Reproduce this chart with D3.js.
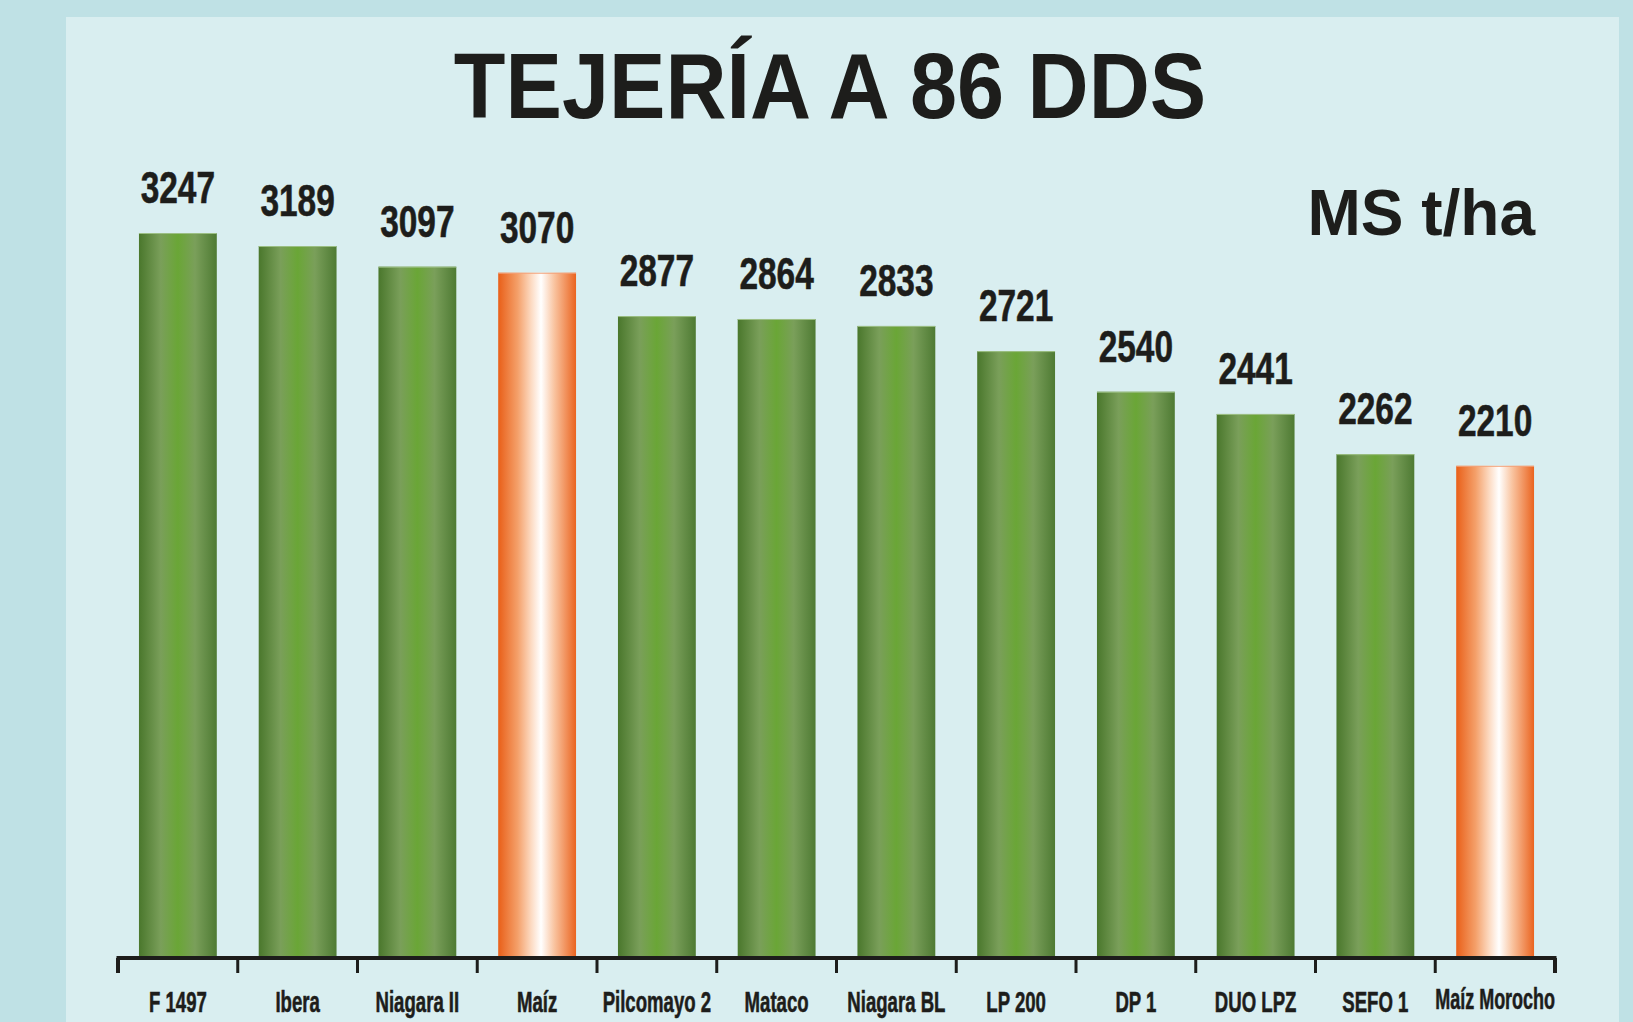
<!DOCTYPE html>
<html>
<head>
<meta charset="utf-8">
<script src="https://cdn.jsdelivr.net/npm/d3@7"></script>
<style>
  html, body { margin: 0; padding: 0; background: #bfe1e5; overflow: hidden; }
  text { font-family: "Liberation Sans", Arial, sans-serif; font-weight: bold; fill: #1d1d1b; }
  .lbl { stroke: #1d1d1b; stroke-width: 0.6px; }
</style>
</head>
<body>
<div id="chart"></div>
<script>
// data
const categories = ["F 1497", "Ibera", "Niagara II", "Maíz", "Pilcomayo 2", "Mataco",
                    "Niagara BL", "LP 200", "DP 1", "DUO LPZ", "SEFO 1", "Maíz Morocho"];
const values = [3247, 3189, 3097, 3070, 2877, 2864, 2833, 2721, 2540, 2441, 2262, 2210];
const isMaize = [false, false, false, true, false, false, false, false, false, false, false, true];

const titleText = "TEJERÍA A 86 DDS";
const unitText = "MS t/ha";

const W = 1633, H = 1022;

let svg = d3.select("#chart").append("svg")
    .attr("width", W)
    .attr("height", H);

// background panel
svg.append("rect")
    .attr("width", W).attr("height", H)
    .attr("fill", "#bfe1e5");
svg.append("rect")
    .attr("x", 66).attr("y", 17)
    .attr("width", 1619 - 66).attr("height", H)
    .attr("fill", "#d9eef0");

// gradients
let defs = svg.append("defs");
let green = defs.append("linearGradient").attr("id", "gGreen")
    .attr("x1", 0).attr("x2", 1).attr("y1", 0).attr("y2", 0);
[[0, "#4a772c"], [0.28, "#7a9f5a"], [0.5, "#6aa636"], [0.72, "#7a9f5a"], [1, "#4e7a33"]]
    .forEach(s => green.append("stop").attr("offset", s[0]).attr("stop-color", s[1]));

let orange = defs.append("linearGradient").attr("id", "gOrange")
    .attr("x1", 0).attr("x2", 1).attr("y1", 0).attr("y2", 0);
[[0, "#e95f18"], [0.25, "#f4a06a"], [0.42, "#fcd9c0"], [0.55, "#ffffff"], [0.72, "#f9c4a0"], [1, "#ea6420"]]
    .forEach(s => orange.append("stop").attr("offset", s[0]).attr("stop-color", s[1]));

// scales
let x = d3.scaleBand()
    .domain(categories)
    .range([118, 1555])
    .paddingInner(0.35)
    .paddingOuter(0.175);

let y = d3.scaleLinear()
    .domain([0, d3.max(values)])
    .range([962, 233]);

const axisY = 958;

let data = categories.map((c, i) => ({cat: c, value: values[i], maize: isMaize[i]}));

// bars (clipped at axis line)
defs.append("clipPath").attr("id", "plotClip")
    .append("rect").attr("x", 0).attr("y", 0).attr("width", W).attr("height", axisY);

svg.append("g")
    .attr("clip-path", "url(#plotClip)")
    .selectAll("rect")
    .data(data)
    .enter().append("rect")
    .attr("x", d => x(d.cat))
    .attr("y", d => y(d.value))
    .attr("width", x.bandwidth())
    .attr("height", d => y(0) - y(d.value))
    .attr("fill", d => d.maize ? "url(#gOrange)" : "url(#gGreen)");

// thin highlight at bar top
svg.append("g").selectAll("line")
    .data(data)
    .enter().append("line")
    .attr("x1", d => x(d.cat))
    .attr("x2", d => x(d.cat) + x.bandwidth())
    .attr("y1", d => y(d.value) + 0.5)
    .attr("y2", d => y(d.value) + 0.5)
    .attr("stroke", d => d.maize ? "#f3a27a" : "#9cbf84")
    .attr("stroke-width", 1);

// value labels (condensed)
svg.append("g").selectAll("text")
    .data(data)
    .enter().append("text")
    .attr("class", "lbl")
    .attr("transform", d => `translate(${x(d.cat) + x.bandwidth() / 2}, ${y(d.value) - 30}) scale(0.76, 1)`)
    .attr("text-anchor", "middle")
    .style("font-size", "44px")
    .text(d => d.value);

// axis
let step = x.step();
let bounds = categories.map(c => x(c) + x.bandwidth() / 2 - step / 2);
bounds.push(bounds[bounds.length - 1] + step);

svg.append("line")
    .attr("x1", bounds[0] - 1.5).attr("x2", bounds[bounds.length - 1] + 1.5)
    .attr("y1", axisY).attr("y2", axisY)
    .attr("stroke", "#1d1d1b").attr("stroke-width", 4);

svg.append("g").selectAll("line")
    .data(bounds)
    .enter().append("line")
    .attr("x1", d => d).attr("x2", d => d)
    .attr("y1", axisY).attr("y2", 973)
    .attr("stroke", "#1d1d1b")
    .attr("stroke-width", (d, i) => (i === 0 || i === bounds.length - 1) ? 4 : 3);

// category labels
svg.append("g").selectAll("text")
    .data(data)
    .enter().append("text")
    .attr("class", "lbl")
    .attr("transform", d => {
        let cx = x(d.cat) + x.bandwidth() / 2;
        let yy = d.cat === "Maíz Morocho" ? 1009 : 1012;
        let sx = d.cat === "Maíz Morocho" ? 0.6 : 0.62;
        return `translate(${cx}, ${yy}) scale(${sx}, 1)`;
    })
    .attr("text-anchor", "middle")
    .style("font-size", "30px")
    .text(d => d.cat);

// title
svg.append("text")
    .attr("transform", `translate(830, 118) scale(0.92, 1)`)
    .attr("text-anchor", "middle")
    .style("font-size", "92px")
    .text(titleText);

// unit
svg.append("text")
    .attr("x", 1535).attr("y", 235)
    .attr("text-anchor", "end")
    .style("font-size", "64px")
    .text(unitText);
</script>
</body>
</html>
